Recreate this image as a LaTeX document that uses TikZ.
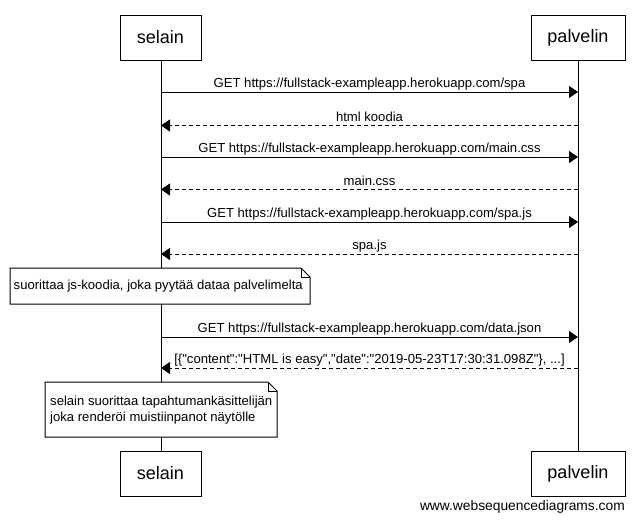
\documentclass[tikz,border=0pt]{standalone}
\usepackage{fontspec}
\setmainfont{Liberation Sans}[Ligatures=TeXOff]
\usetikzlibrary{arrows.meta}
\begin{document}
\begin{tikzpicture}[x=1pt,y=-1pt,
  actor/.style={draw,line width=1pt,fill=white,inner sep=0pt,font=\fontsize{18}{20}\selectfont},
  life/.style={line width=1pt},
  msg/.style={line width=1pt,-{Triangle[length=9pt,width=12pt]}},
  reply/.style={msg,dash pattern=on 4pt off 3pt},
  lbl/.style={font=\fontsize{13.1}{15}\selectfont,inner sep=0pt,anchor=base,yshift=4.5pt},
  notetext/.style={font=\fontsize{13.1}{15.5}\selectfont,inner sep=0pt,align=left,anchor=west},
  notebox/.style={line width=1pt,fill=white,line join=miter}
]
\useasboundingbox (0,0) rectangle (640,520);
\fill[white] (0,0) rectangle (640,520);

% lifelines
\coordinate (sT) at (161,60);
\coordinate (sB) at (161,451);
\coordinate (pT) at (578,60);
\coordinate (pB) at (578,451);
\draw[life] (sT) -- (sB);
\draw[life] (pT) -- (pB);

% actors
\node[actor,minimum width=81pt,minimum height=45pt] (selainT) at (160.5,37.5) {selain};
\node[actor,minimum width=94pt,minimum height=45pt] (palvelinT) at (578,37.5) {palvelin};
\node[actor,minimum width=81pt,minimum height=45pt] (selainB) at (160.5,473.5) {selain};
\node[actor,minimum width=94pt,minimum height=45pt] (palvelinB) at (578,473.5) {palvelin};

% message end points
\foreach \i/\y in {1/92,2/125.5,3/157,4/189.5,5/222,6/254,7/337,8/368}{
  \coordinate (s\i) at (161,\y);
  \coordinate (p\i) at (578,\y);
}

\draw[msg] (s1) -- (p1) node[lbl,midway] {GET https://fullstack-exampleapp.herokuapp.com/spa};
\draw[reply] (p2) -- (s2) node[lbl,midway] {html koodia};
\draw[msg] (s3) -- (p3) node[lbl,midway] {GET https://fullstack-exampleapp.herokuapp.com/main.css};
\draw[reply] (p4) -- (s4) node[lbl,midway] {main.css};
\draw[msg] (s5) -- (p5) node[lbl,midway] {GET https://fullstack-exampleapp.herokuapp.com/spa.js};
\draw[reply] (p6) -- (s6) node[lbl,midway] {spa.js};
\draw[msg] (s7) -- (p7) node[lbl,midway] {GET https://fullstack-exampleapp.herokuapp.com/data.json};
\draw[reply] (p8) -- (s8) node[lbl,midway] {[\{"content":"HTML is easy","date":"2019-05-23T17:30:31.098Z"\}, ...]};

% note 1
\draw[notebox] (10,268) -- (301,268) -- (310,277) -- (310,304) -- (10,304) -- cycle;
\draw[line width=1pt] (301,268) -- (301,277) -- (310,277);
\node[notetext] (note1) at (13.5,286.5) {suorittaa js-koodia, joka pyytää dataa palvelimelta};

% note 2
\draw[notebox] (45,382) -- (268,382) -- (277,391) -- (277,437) -- (45,437) -- cycle;
\draw[line width=1pt] (268,382) -- (268,391) -- (277,391);
\node[notetext] (note2) at (50,410) {selain suorittaa tapahtumankäsittelijän\\joka renderöi muistiinpanot näytölle};

% watermark
\node[font=\fontsize{13.8}{15}\selectfont,inner sep=0pt,anchor=base east] (wm) at (625,510) {www.websequencediagrams.com};
\end{tikzpicture}
\end{document}
